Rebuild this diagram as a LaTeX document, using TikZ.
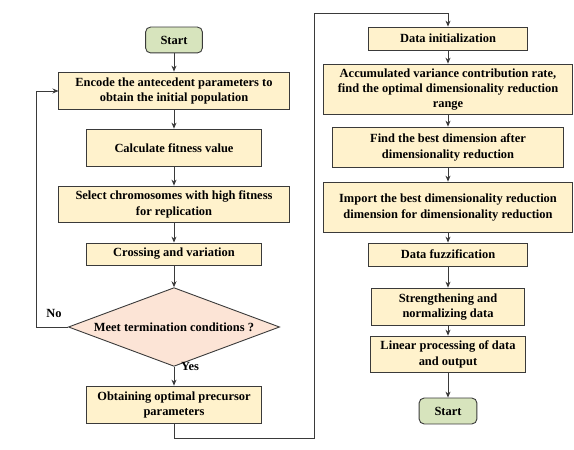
\documentclass[tikz,border=0pt]{standalone}
\usepackage{fontspec}
\setmainfont{Liberation Serif}
\usetikzlibrary{arrows.meta,shapes.geometric}
\definecolor{flowInk}{HTML}{3A3A3A}
\definecolor{flowBox}{HTML}{FFF2CC}
\definecolor{flowStart}{HTML}{D7E4BD}
\definecolor{flowCheck}{HTML}{FCE4D6}
\tikzset{
  every picture/.style={font=\bfseries\fontsize{12.5}{15.5}\selectfont, text=black},
  flow box/.style={draw=flowInk, line width=0.9pt, fill=flowBox, align=center,
    inner sep=0pt},
  flow start/.style={draw=flowInk, line width=0.9pt, fill=flowStart,
    rounded corners=5pt, align=center, inner sep=0pt,
    minimum width=57, minimum height=26},
  flow check/.style={draw=flowInk, line width=0.9pt, fill=flowCheck, diamond,
    shape aspect=2.68, inner sep=0pt, minimum width=212, minimum height=79},
  flow arrow/.style={-{Stealth[length=6pt,width=5pt]}, draw=flowInk,
    line width=0.8pt},
  flow line/.style={draw=flowInk, line width=0.8pt}
}

\begin{document}
\begin{tikzpicture}[x=1bp,y=-1bp]
  \useasboundingbox (0,0) rectangle (574,450);
  % left column
  \node[flow start] (start) at (174,40) {Start};
  \node[flow box, minimum width=231, minimum height=38] (encode) at (174,91)
    {Encode the antecedent parameters to\\obtain the initial population};
  \node[flow box, minimum width=176, minimum height=38] (fitness) at (174,148)
    {Calculate fitness value};
  \node[flow box, minimum width=231, minimum height=37] (select) at (174,204.5)
    {Select chromosomes with high fitness\\for replication};
  \node[flow box, minimum width=176, minimum height=22] (cross) at (174,254)
    {Crossing and variation};
  \node[flow check] (meet) at (174,327) {Meet termination conditions ?};
  \node[flow box, minimum width=176, minimum height=38] (obtain) at (174,405)
    {Obtaining optimal precursor\\parameters};
  \node (no) at (54,313) {No};
  \node (yes) at (190,366) {Yes};
  % right column
  \node[flow box, minimum width=159, minimum height=23] (init) at (448,38.5)
    {Data initialization};
  \node[flow box, minimum width=250, minimum height=51] (accum) at (448,89.5)
    {Accumulated variance contribution rate,\\find the optimal dimensionality reduction\\range};
  \node[flow box, minimum width=232, minimum height=41] (best) at (448,147.5)
    {Find the best dimension after\\dimensionality reduction};
  \node[flow box, minimum width=250, minimum height=51] (import) at (448,207.5)
    {Import the best dimensionality reduction\\dimension for dimensionality reduction};
  \node[flow box, minimum width=159, minimum height=23] (fuzz) at (448,254.5)
    {Data fuzzification};
  \node[flow box, minimum width=153, minimum height=38] (strength) at (448,307)
    {Strengthening and\\normalizing data};
  \node[flow box, minimum width=156, minimum height=37] (linear) at (448,354.5)
    {Linear processing of data\\and output};
  \node[flow start, minimum width=58] (stop) at (448,411) {Start};
  % bends
  \coordinate (noturn) at (36,327);
  \coordinate (lowbend) at (314,438);
  \coordinate (topbend) at (314,13);
  % connectors
  \draw[flow arrow] (start) -- (encode);
  \draw[flow arrow] (encode) -- (fitness);
  \draw[flow arrow] (fitness) -- (select);
  \draw[flow arrow] (select) -- (cross);
  \draw[flow arrow] (cross) -- (meet);
  \draw[flow arrow] (meet) -- (obtain);
  \draw[flow arrow] (meet.west) -- (noturn) |- (encode.west);
  \draw[flow arrow] (obtain.south) |- (lowbend) -- (topbend) -| (init.north);
  \draw[flow arrow] (init) -- (accum);
  \draw[flow arrow] (accum) -- (best);
  \draw[flow arrow] (best) -- (import);
  \draw[flow arrow] (import) -- (fuzz);
  \draw[flow arrow] (fuzz) -- (strength);
  \draw[flow arrow] (strength) -- (linear);
  \draw[flow arrow] (linear) -- (stop);
\end{tikzpicture}
\end{document}
